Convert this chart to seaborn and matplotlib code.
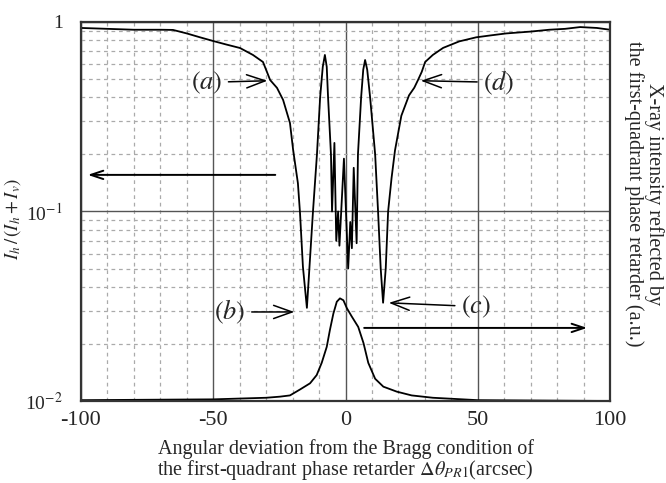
import numpy as np
import matplotlib
matplotlib.use("Agg")
import matplotlib.pyplot as plt
import seaborn as sns
from matplotlib.ticker import MultipleLocator, LogLocator, NullFormatter

# polarization ratio Ih/(Ih+Iv)
pol_x = [-100, -90, -80, -70, -65.2, -60, -55, -50.1, -45, -39.9, -35, -31.2,
         -29.7, -28.5, -25.9, -23.6, -21.0, -19.8, -18.0, -17.2, -16.1, -14.6,
         -12.3, -10.8, -9.6, -8.6, -7.8, -7.1, -6.6, -5.5, -5.1,
         -4.2, -3.5, -2.8, -2.3, -0.6, 0.3, 1.0, 1.8, 2.4, 3.1, 4.2,
         4.7, 5.9, 6.7, 7.4, 8.2, 9.3, 11.2, 12.3, 13.3, 14.2,
         15.2, 16.1, 17.4, 18.7, 21.1, 24, 26, 27.4, 28.8, 30.1, 33, 36.9,
         43, 49.4, 55, 60.7, 70, 77, 83, 88.7, 95, 100]
pol_y = [0.93, 0.92, 0.91, 0.91, 0.908, 0.87, 0.83, 0.794, 0.76, 0.729, 0.67, 0.615,
         0.545, 0.494, 0.449, 0.388, 0.293, 0.211, 0.141, 0.098, 0.051, 0.031,
         0.10, 0.20, 0.40, 0.58, 0.67, 0.58, 0.40, 0.20, 0.10,
         0.23, 0.07, 0.10, 0.066, 0.19, 0.09, 0.050, 0.088, 0.064, 0.17, 0.068,
         0.20, 0.40, 0.56, 0.63, 0.56, 0.40, 0.20, 0.10, 0.05, 0.033,
         0.05, 0.10, 0.15, 0.21, 0.32, 0.41, 0.45, 0.494, 0.545, 0.615, 0.67, 0.73,
         0.79, 0.83, 0.85, 0.87, 0.89, 0.91, 0.92, 0.94, 0.93, 0.91]

# reflected intensity of the phase retarder (a.u.)
bragg_x = [-100, -50, -40, -30, -24.8, -21.0, -17.2, -13.4, -10.9, -9.0, -7.1,
           -5.9, -4.6, -3.3, -2.1, -0.8, 0.5, 2.3, 4.8, 6.8, 8.6, 11.2, 14.3,
           19.4, 25, 33, 50, 100]
bragg_y = [0.0101, 0.0102, 0.0103, 0.0104, 0.01054, 0.0107, 0.0115, 0.0124, 0.0137,
           0.0159, 0.0193, 0.0237, 0.0289, 0.0334, 0.0348, 0.0340, 0.0309, 0.0280,
           0.0246, 0.0202, 0.0159, 0.0131, 0.0119, 0.0112, 0.0107, 0.0104, 0.0101,
           0.0100]

x_ticks = [-100, -50, 0, 50, 100]
y_ticks = [0.01, 0.1, 1]
y_labels = ["10$^{-2}$", "10$^{-1}$", "1"]

sns.set_style("white")
plt.rcParams['font.family'] = ['Liberation Serif', 'DejaVu Serif']
plt.rcParams['mathtext.fontset'] = 'stix'

fig = plt.figure(figsize=(6.66, 4.83), dpi=100)
ax = fig.add_axes([0.1216, 0.1698, 0.7944, 0.7847])

sns.lineplot(x=pol_x, y=pol_y, ax=ax, color='black', lw=1.3, estimator=None)
sns.lineplot(x=bragg_x, y=bragg_y, ax=ax, color='black', lw=1.3, estimator=None)

ax.set_yscale('log')
ax.set_xlim(-100, 100)
ax.set_ylim(0.01, 1)
ax.set_xticks(x_ticks)
ax.set_xticklabels([str(t) for t in x_ticks])
ax.set_yticks(y_ticks)
ax.set_yticklabels(y_labels)
ax.xaxis.set_minor_locator(MultipleLocator(10))
ax.yaxis.set_minor_locator(LogLocator(base=10, subs=np.arange(2, 10)))
ax.yaxis.set_minor_formatter(NullFormatter())
ax.tick_params(which='both', length=0)
ax.tick_params(axis='x', labelsize=16, pad=7)
ax.tick_params(axis='y', labelsize=14, pad=13)

ax.grid(which='major', color='#555555', lw=1.0, ls='-')
ax.grid(which='minor', color='#aaaaaa', lw=0.9, ls=(0, (3, 3)))
ax.set_axisbelow(True)
for s in ax.spines.values():
    s.set_linewidth(1.6)
    s.set_color('#333333')

ax.set_xlabel("Angular deviation from the Bragg condition of\n"
              r"the first-quadrant phase retarder $\Delta\theta_{PR1}$(arcsec)",
              fontsize=14.5, linespacing=0.95)
ax.xaxis.set_label_coords(0.5, -0.1)
ax.set_ylabel(r"$I_h\,/\,(I_h + I_v)$", fontsize=13.5)
ax.yaxis.set_label_coords(-0.11, 0.48)

ax2 = ax.twinx()
ax2.set_yticks([])
ax2.set_ylabel("X-ray intensity reflected by\nthe first-quadrant phase retarder (a.u.)",
               rotation=270, fontsize=14.5, linespacing=0.95, va='center')
ax2.yaxis.set_label_coords(1.064, 0.546)
for s in ax2.spines.values():
    s.set_visible(False)

arrow = dict(arrowstyle='->,head_length=0.7,head_width=0.25', color='black', lw=1.1)
big_arrow = dict(arrowstyle='->,head_length=0.9,head_width=0.3', color='black', lw=1.4)

ax.annotate("", xy=(-98.5, 0.156), xytext=(-25.5, 0.156), arrowprops=big_arrow)
ax.annotate("", xy=(92.4, 0.0243), xytext=(6, 0.0243), arrowprops=big_arrow)

ax.annotate(r"$(a)$", xy=(-28.5, 0.49), xytext=(-52.5, 0.48), fontsize=19,
            ha='center', va='center', arrowprops=arrow)
ax.annotate(r"$(d)$", xy=(27.4, 0.49), xytext=(58, 0.48), fontsize=19,
            ha='center', va='center', arrowprops=arrow)
ax.annotate(r"$(b)$", xy=(-18.3, 0.0295), xytext=(-43.7, 0.0295), fontsize=19,
            ha='center', va='center', arrowprops=arrow)
ax.annotate(r"$(c)$", xy=(15.3, 0.033), xytext=(49.3, 0.0315), fontsize=19,
            ha='center', va='center', arrowprops=arrow)

fig.savefig("out.png", dpi=100, facecolor='white')
